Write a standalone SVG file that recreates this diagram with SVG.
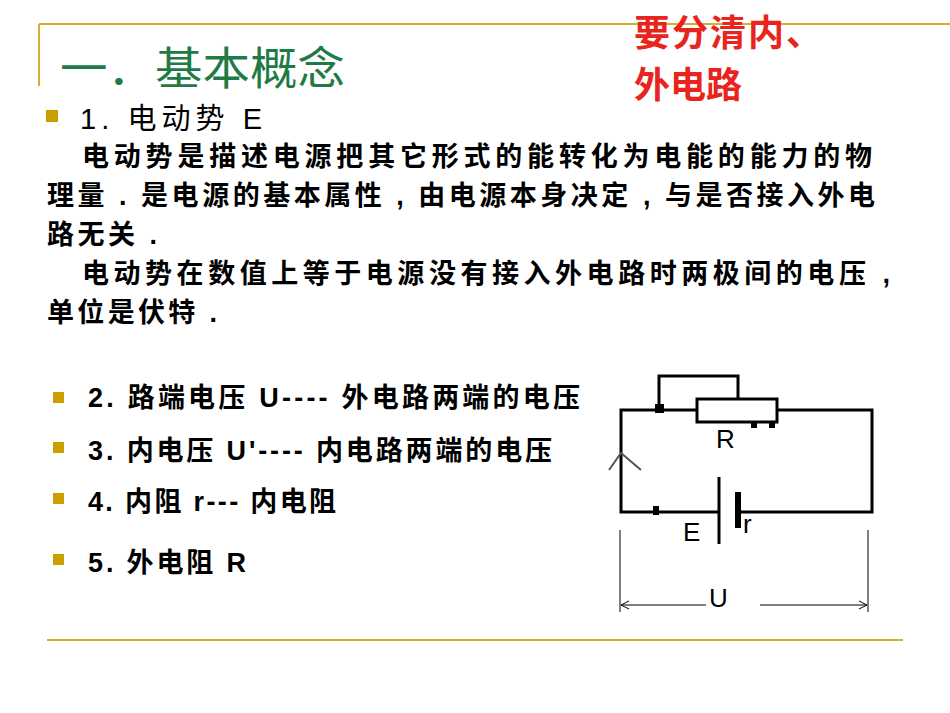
<svg xmlns="http://www.w3.org/2000/svg" width="950" height="713" viewBox="0 0 950 713">
<style>
.t{font-family:"Liberation Sans","Noto Sans CJK SC",sans-serif;fill:#000}
.b{font-weight:bold;font-size:27px}
.p{font-size:27px;font-weight:bold}
.w{stroke:#000;stroke-width:3;fill:none}
.bul{fill:#c9a000}
</style>
<rect width="950" height="713" fill="#fff"/>
<g id="frame" stroke="#d4b030" stroke-width="2">
<line x1="39" y1="24" x2="950" y2="24"/><line x1="39" y1="24" x2="39" y2="86"/>
<line x1="47" y1="640" x2="903" y2="640"/>
</g>
<text id="title" x="60" y="85" font-family="Noto Sans CJK SC,serif" font-size="45" fill="#1f7a45" textLength="285" lengthAdjust="spacingAndGlyphs">一．基本概念</text>
<g id="note" font-family="Liberation Sans,Noto Sans CJK SC,sans-serif" font-size="36" font-weight="bold" fill="#e8241c">
<text x="634" y="46" textLength="188">要分清内、</text><text x="634" y="98">外电路</text></g>
<rect class="bul" x="46" y="110" width="12" height="12"/>
<text class="t" x="80" y="129" font-size="29" textLength="182">1. 电动势 E</text>
<g class="t p">
<text x="82" y="166" textLength="790">电动势是描述电源把其它形式的能转化为电能的能力的物</text>
<text x="47" y="205" textLength="828">理量 . 是电源的基本属性 , 由电源本身决定 , 与是否接入外电</text>
<text x="47" y="244" textLength="110">路无关 .</text>
<text x="82" y="283" textLength="808">电动势在数值上等于电源没有接入外电路时两极间的电压 ,</text>
<text x="47" y="322" textLength="170">单位是伏特 .</text>
</g>
<g id="bullets">
<rect class="bul" x="53" y="392" width="11" height="11"/>
<rect class="bul" x="53" y="442" width="11" height="11"/>
<rect class="bul" x="53" y="493" width="11" height="11"/>
<rect class="bul" x="53" y="554" width="11" height="11"/>
<g class="t b">
<text x="88" y="407" textLength="492">2. 路端电压 U---- 外电路两端的电压</text>
<text x="88" y="460" textLength="464">3. 内电压 U'---- 内电路两端的电压</text>
<text x="88" y="511" textLength="248">4. 内阻 r--- 内电阻</text>
<text x="88" y="572" textLength="158">5. 外电阻 R</text>
</g></g>
<g id="circuit">
<polyline class="w" points="697,410 621,410 621,512 719,512"/>
<polyline class="w" points="737,512 872,512 872,410 777,410"/>
<rect class="w" x="697" y="399" width="80" height="23"/>
<polyline class="w" points="659,410 659,376 738,376 738,399"/>
<rect x="655" y="404" width="9" height="9"/>
<rect x="751" y="422" width="6" height="6"/><rect x="769" y="422" width="6" height="6"/>
<rect x="653" y="506" width="6" height="9"/>
<line x1="719" y1="477" x2="719" y2="544" stroke="#000" stroke-width="3"/>
<line x1="738" y1="492" x2="738" y2="528" stroke="#000" stroke-width="6"/>
<polyline points="609,470 621,453 641,470" fill="none" stroke="#555" stroke-width="2"/>
<g class="t" font-size="26"><text x="716" y="448">R</text><text x="683" y="541">E</text><text x="743" y="533">r</text><text x="709" y="607">U</text></g>
<g stroke="#000" stroke-width="1" fill="none">
<line x1="620" y1="530" x2="620" y2="612"/><line x1="868" y1="530" x2="868" y2="612"/>
<line x1="621" y1="605" x2="706" y2="605"/><line x1="760" y1="605" x2="867" y2="605"/>
<polyline points="629,601 621,605 629,609"/><polyline points="859,601 867,605 859,609"/></g>
</g>
</svg>
